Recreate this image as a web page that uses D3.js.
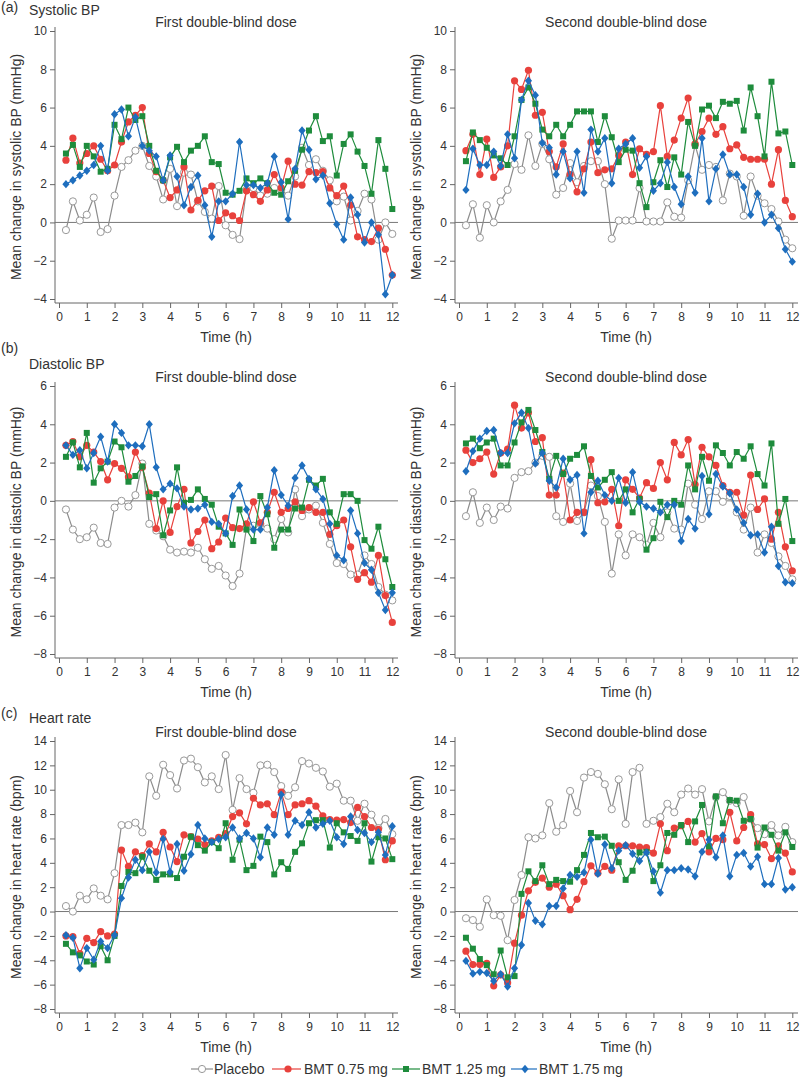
<!DOCTYPE html>
<html>
<head>
<meta charset="utf-8">
<script src="https://cdn.jsdelivr.net/npm/d3@7"></script>
<style>
body { margin: 0; background: #fff; }
text { font-family: "Liberation Sans", Arial, sans-serif; fill: #333; }
</style>
</head>
<body>
<div id="chart"></div>
<script>
// time points (h)
const times = [0.25,0.5,0.75,1,1.25,1.5,1.75,2,2.25,2.5,2.75,3,
  3.25,3.5,3.75,4,4.25,4.5,4.75,5,5.25,5.5,5.75,6,
  6.25,6.5,6.75,7,7.25,7.5,7.75,8,8.25,8.5,8.75,9,
  9.25,9.5,9.75,10,10.25,10.5,10.75,11,11.25,11.5,11.75,12];
const xTicks = [0,1,2,3,4,5,6,7,8,9,10,11,12];
const sysTicks = [-4,-2,0,2,4,6,8,10];
const diaTicks = [-8,-6,-4,-2,0,2,4,6];
const hrTicks = [-8,-6,-4,-2,0,2,4,6,8,10,12,14];

const seriesNames = ["Placebo", "BMT 0.75 mg", "BMT 1.25 mg", "BMT 1.75 mg"];

// (a) systolic, first dose
const sys1Placebo = [-0.4,1.1,0.1,0.4,1.3,-0.5,-0.35,1.4,2.9,3.25,3.75,4.0,
  2.95,2.4,1.2,2.8,0.85,2.6,2.5,1.1,0.55,0.2,1.9,-0.15,
  -0.65,-0.87,1.7,1.8,1.4,1.5,1.8,1.7,1.4,2.4,3.9,3.0,
  3.3,2.7,2.2,1.1,1.35,0.1,0.6,1.5,1.2,-0.9,0.0,-0.6];
const sys1Bmt075 = [3.25,4.4,3.1,3.6,4.0,3.3,2.7,3.0,4.2,5.25,5.6,6.0,
  3.6,2.65,2.2,1.3,1.7,2.9,0.65,1.15,1.65,1.9,0.1,0.5,
  0.35,0.1,1.65,1.45,1.1,1.7,2.5,1.8,3.2,2.0,1.95,2.65,
  2.6,2.65,1.8,1.4,1.9,0.9,-0.75,-0.9,-1.0,-0.3,-1.4,-2.75];
const sys1Bmt125 = [3.6,4.05,2.9,4.0,3.45,2.65,2.8,5.1,4.35,6.0,5.35,5.55,
  4.0,2.7,2.2,3.4,3.95,3.15,3.75,4.0,4.5,3.15,3.05,1.55,
  1.45,1.65,2.3,2.05,2.3,2.05,1.55,1.45,2.15,2.7,3.8,4.8,
  5.55,4.25,4.5,2.45,4.1,4.6,3.7,2.95,1.5,4.3,2.8,0.7];
const sys1Bmt175 = [2.0,2.2,2.45,2.7,3.0,4.0,2.7,5.65,5.9,4.5,5.5,4.0,
  3.75,3.45,2.2,3.5,2.4,0.9,1.85,2.45,0.9,-0.75,1.1,1.1,
  1.5,4.2,1.95,1.95,1.8,2.05,3.45,2.1,0.17,2.8,4.8,3.8,
  2.25,2.45,1.0,-0.1,-0.9,1.3,0.4,-1.05,0.0,-0.65,-3.75,-2.75];

// (a) systolic, second dose
const sys2Placebo = [-0.15,0.95,-0.8,0.9,0.0,1.1,1.7,3.05,2.75,4.55,2.95,4.1,
  3.3,1.45,1.8,3.1,2.1,2.95,3.2,3.2,2.0,-0.85,0.1,0.1,
  0.1,1.8,0.05,0.05,0.05,1.05,0.3,0.25,2.2,4.05,2.75,3.0,
  2.9,1.15,2.55,2.4,0.35,2.4,1.4,1.0,0.7,0.05,-0.9,-1.35];
const sys2Bmt075 = [3.75,4.6,2.5,4.35,2.35,2.9,4.0,7.4,6.95,7.95,5.6,5.75,
  3.7,2.9,4.1,2.5,1.6,2.8,4.2,2.6,2.75,2.8,3.5,4.2,
  2.5,3.85,3.55,3.7,6.1,3.45,4.3,5.45,6.5,4.1,4.75,5.45,
  4.6,5.0,3.85,4.05,3.4,3.3,3.3,3.3,2.0,3.8,1.15,0.3];
const sys2Bmt125 = [3.2,4.7,4.3,3.9,3.5,3.35,3.0,4.5,6.4,7.05,6.2,4.85,
  4.5,5.1,4.5,5.1,5.8,5.8,5.8,4.2,5.55,4.45,3.15,3.8,
  3.75,2.05,0.8,2.1,3.25,1.85,3.4,2.5,5.25,4.0,5.9,6.1,
  5.45,6.3,6.2,6.35,4.8,7.05,5.55,3.45,7.35,4.65,4.75,3.0];
const sys2Bmt175 = [1.7,3.85,3.0,3.0,3.7,2.95,4.6,3.35,6.4,7.4,6.65,4.15,
  3.9,2.5,3.7,2.3,3.7,1.55,4.85,3.7,4.4,2.05,3.85,4.1,
  4.4,2.85,3.45,1.65,2.05,3.15,1.85,0.95,2.4,1.55,4.4,1.1,
  2.8,3.55,2.5,2.5,1.85,0.4,1.5,0.0,0.4,-0.3,-1.4,-2.05];

// (b) diastolic, first dose
const dia1Placebo = [-0.45,-1.5,-2.0,-1.9,-1.4,-2.2,-2.25,-0.35,0.0,-0.3,0.3,1.95,
  -1.2,-1.55,-1.85,-2.55,-2.7,-2.65,-2.7,-2.45,-3.05,-3.55,-3.4,-3.9,
  -4.45,-3.8,-1.4,-1.3,-1.2,-1.45,-2.0,-0.95,-1.65,0.6,-0.8,-0.45,
  -0.25,-1.15,-2.25,-3.25,-3.3,-3.85,-3.85,-2.85,-3.3,-4.5,-4.9,-5.2];
const dia1Bmt075 = [2.9,3.1,2.3,2.9,2.55,2.05,1.1,1.95,1.7,1.25,2.55,1.75,
  0.4,-1.45,0.0,-1.65,-0.3,0.6,-2.2,-1.6,-1.0,-2.5,-2.15,-0.9,
  -1.4,-1.45,-1.2,-0.05,-1.15,-0.6,0.45,-0.6,-0.4,-0.05,-0.5,-0.35,
  -0.6,-0.6,-1.75,-1.3,-1.0,-2.4,-4.1,-3.75,-4.25,-2.85,-4.95,-6.35];
const dia1Bmt125 = [2.3,3.05,1.75,3.55,0.95,1.7,2.05,3.1,2.8,1.0,1.3,1.8,
  0.2,0.35,-1.8,-0.5,1.75,-0.1,0.05,0.6,0.1,-0.2,-1.35,-1.7,
  -2.3,-0.45,-1.5,-2.1,0.25,-0.7,-2.45,-1.5,-1.5,-0.4,-0.35,1.1,
  0.8,1.15,-0.6,-1.2,0.35,0.35,0.0,-2.05,-2.5,-1.35,-3.05,-4.5];
const dia1Bmt175 = [2.9,2.4,2.65,1.7,2.5,3.35,2.05,4.0,3.55,2.9,2.9,2.85,
  4.0,1.75,0.6,0.9,0.65,-0.3,-0.45,-0.4,-0.2,-1.1,-1.2,-1.7,
  0.25,0.8,-0.45,-1.5,-1.5,-0.35,1.6,0.3,-0.25,1.2,1.85,1.15,
  0.6,0.1,-1.2,-2.85,-3.1,-0.5,-1.7,-3.25,-3.6,-4.8,-5.7,-4.8];

// (b) diastolic, second dose
const dia2Placebo = [-0.8,0.45,-1.15,-0.35,-1.0,-0.3,-0.4,1.2,1.5,1.55,2.0,2.35,
  2.3,-0.8,-1.1,0.9,-1.05,-0.6,0.8,0.25,-1.1,-3.8,-1.75,-2.85,
  -1.75,-1.9,-2.3,-1.15,-1.9,-0.6,-1.45,-1.5,0.9,-0.2,-0.95,0.5,
  0.5,-0.05,0.25,-0.6,-1.5,-0.35,-2.7,-1.75,-2.2,-2.9,-3.4,-4.1];
const dia2Bmt075 = [2.65,2.0,2.2,2.55,1.4,2.5,2.7,5.0,3.8,4.6,3.1,3.3,
  0.3,0.3,1.45,-1.0,-0.6,-0.6,2.15,-0.1,-0.05,0.6,-1.3,1.1,
  0.6,0.15,0.95,0.65,2.0,1.1,3.05,2.4,3.2,0.85,2.8,2.3,
  1.85,0.8,0.45,0.45,-0.75,1.35,-0.45,0.1,-2.0,-0.6,-2.4,-3.65];
const dia2Bmt125 = [3.0,3.25,2.75,3.05,3.25,1.85,1.85,3.05,4.1,4.75,3.7,2.55,
  1.15,2.35,1.4,2.2,2.4,2.85,1.3,0.7,1.1,1.5,0.0,0.6,
  -0.6,0.1,-2.55,-1.95,-0.05,-0.85,0.0,-0.2,1.85,0.6,2.3,1.05,
  2.9,2.5,1.85,2.55,2.2,2.85,1.4,0.8,3.0,-1.2,0.1,-2.1];
const dia2Bmt175 = [1.55,2.6,3.25,3.65,3.7,2.5,2.5,4.05,4.6,3.8,1.95,2.5,
  1.05,0.7,2.2,1.1,1.35,-1.7,0.45,1.05,0.3,0.0,1.2,-0.1,
  1.5,-0.05,-0.3,-0.4,-0.6,-0.2,-0.2,-2.1,-0.95,-1.45,1.3,-0.7,
  1.4,0.75,0.4,-0.45,-1.15,-1.8,-1.75,-2.7,-1.35,-3.4,-4.25,-4.3];

// (c) heart rate, first dose
const hr1Placebo = [0.45,0.0,1.3,1.0,1.9,1.3,1.0,3.15,7.1,7.1,7.3,6.5,
  11.1,9.5,12.05,11.2,10.1,12.4,12.55,11.85,10.6,11.1,10.05,12.85,
  8.35,10.95,10.05,9.75,12.0,12.05,11.45,10.3,9.5,10.2,12.35,12.15,
  11.8,11.5,10.25,10.5,9.1,9.1,7.45,8.85,7.95,6.85,7.6,6.35];
const hr1Bmt075 = [-2.0,-2.05,-3.45,-2.2,-2.55,-1.65,-2.0,-1.85,5.05,3.7,4.9,4.6,
  5.55,4.9,6.5,5.3,4.1,6.3,6.15,5.95,5.5,5.8,6.1,6.4,
  7.8,8.1,7.2,9.3,8.75,8.85,7.95,9.8,7.95,8.75,8.85,9.1,
  8.65,7.85,7.55,7.5,7.55,7.3,8.55,7.8,6.9,6.75,4.25,5.8];
const hr1Bmt125 = [-2.65,-3.35,-3.6,-4.1,-4.35,-2.85,-4.0,-2.0,2.1,3.25,3.15,4.5,
  3.35,2.6,3.05,3.05,2.75,4.5,6.15,5.45,5.0,5.7,5.2,7.25,
  4.25,5.9,3.4,3.75,6.15,5.7,3.05,4.05,3.5,4.9,5.6,7.25,
  7.5,7.5,5.25,7.25,6.5,6.2,5.8,7.25,4.1,6.1,6.0,4.3];
const hr1Bmt175 = [-1.95,-2.15,-4.65,-3.0,-3.95,-2.45,-3.0,-1.95,1.1,2.8,4.25,3.4,
  4.9,3.2,5.95,3.25,5.55,3.35,4.7,7.1,6.0,5.7,5.95,6.1,
  6.9,6.0,6.45,6.0,4.45,6.9,6.3,9.6,6.3,7.45,7.1,8.15,
  6.9,7.2,7.45,6.1,5.55,7.8,6.7,6.45,5.7,6.5,4.65,7.0];

// (c) heart rate, second dose
const hr2Placebo = [-0.55,-0.7,-1.25,1.0,-0.3,-0.35,-2.35,0.95,3.0,6.1,6.0,6.25,
  8.9,6.55,7.1,9.9,8.15,11.0,11.45,11.3,10.45,8.4,10.85,7.2,
  11.45,11.8,7.2,7.45,7.75,8.85,8.15,9.6,10.1,9.6,10.05,7.4,
  9.4,9.8,9.1,8.9,9.4,7.6,6.85,6.35,7.1,6.25,6.95,5.7];
const hr2Bmt075 = [-3.25,-4.35,-4.35,-4.25,-6.1,-5.2,-5.85,-2.6,-0.3,1.7,2.4,2.75,
  2.0,2.25,1.3,0.15,1.0,2.45,3.75,3.15,3.7,3.4,5.4,5.4,
  5.4,5.3,5.25,4.8,7.2,5.0,6.85,7.05,7.4,5.7,6.4,4.9,
  6.0,5.9,8.15,5.8,6.9,7.95,5.55,5.5,4.35,5.4,4.8,3.25];
const hr2Bmt125 = [-2.15,-3.05,-3.9,-4.4,-5.15,-3.2,-5.4,-5.3,1.45,3.3,2.5,3.8,
  2.25,2.6,2.5,2.45,3.4,4.65,6.45,6.1,6.15,5.4,4.05,2.6,
  3.35,4.85,4.9,2.5,3.8,6.45,6.3,7.1,5.7,7.4,8.75,5.35,
  9.45,7.25,9.15,9.1,7.45,7.6,5.25,6.9,6.3,5.0,6.5,5.3];
const hr2Bmt175 = [-4.05,-5.1,-4.95,-5.05,-5.7,-5.15,-6.15,-4.65,-2.75,0.7,-0.75,-1.05,
  0.45,0.45,1.9,3.0,2.85,3.2,5.9,3.1,5.5,3.55,5.0,5.45,
  4.75,4.15,4.85,3.3,1.55,3.4,3.4,3.55,3.45,2.9,4.9,5.9,
  4.45,6.25,2.9,4.65,4.8,3.7,4.5,2.25,2.25,4.4,1.8,2.0];

const colors = ["#8c8c8c", "#e8413c", "#1e8c3c", "#1e6ebe"];
const markerFill = ["#fff", "#e8413c", "#1e8c3c", "#1e6ebe"];
const markerStroke = ["#999", "none", "none", "none"];

const rows = [
  {tag: "(a)", title: "Systolic BP", ylabel: "Mean change in systolic BP (mmHg)",
   domain: [-4, 10], ticks: sysTicks, oy: 0, tagY: 12, titleY: 15,
   first: [sys1Placebo, sys1Bmt075, sys1Bmt125, sys1Bmt175],
   second: [sys2Placebo, sys2Bmt075, sys2Bmt125, sys2Bmt175]},
  {tag: "(b)", title: "Diastolic BP", ylabel: "Mean change in diastolic BP (mmHg)",
   domain: [-8, 6], ticks: diaTicks, oy: 355, tagY: -2, titleY: 14,
   first: [dia1Placebo, dia1Bmt075, dia1Bmt125, dia1Bmt175],
   second: [dia2Placebo, dia2Bmt075, dia2Bmt125, dia2Bmt175]},
  {tag: "(c)", title: "Heart rate", ylabel: "Mean change in heart rate (bpm)",
   domain: [-8, 14], ticks: hrTicks, oy: 710, tagY: 8, titleY: 13,
   first: [hr1Placebo, hr1Bmt075, hr1Bmt125, hr1Bmt175],
   second: [hr2Placebo, hr2Bmt075, hr2Bmt125, hr2Bmt175]}
];

const svg = d3.select("#chart").append("svg")
  .attr("width", 800)
  .attr("height", 1079);

function marker(sel, i) {
  if (i === 0 || i === 1) {
    sel.append("circle").attr("r", 3.6)
      .attr("fill", markerFill[i])
      .attr("stroke", markerStroke[i])
      .attr("stroke-width", 1);
  } else if (i === 2) {
    sel.append("rect").attr("x", -3).attr("y", -3)
      .attr("width", 6).attr("height", 6)
      .attr("fill", markerFill[i]);
  } else {
    sel.append("path").attr("d", "M0,-4.2L3.6,0L0,4.2L-3.6,0Z")
      .attr("fill", markerFill[i]);
  }
}

function drawPanel(g, row, data, subtitle) {
  const x = d3.scaleLinear().domain([0, 12]).range([59, 392.3]);
  const y = d3.scaleLinear().domain(row.domain).range([299, 31]);

  g.append("text")
    .attr("x", 226).attr("y", 27)
    .attr("text-anchor", "middle")
    .style("font-size", "14px")
    .text(subtitle);

  // y axis
  const ya = g.append("g")
    .attr("transform", "translate(55,0)")
    .call(d3.axisLeft(y).tickValues(row.ticks).tickSize(5).tickPadding(3));
  ya.select(".domain").remove();

  // x axis
  const xa = g.append("g")
    .attr("transform", "translate(0,303)")
    .call(d3.axisBottom(x).tickValues(xTicks).tickSize(5).tickPadding(4));
  xa.select(".domain").remove();

  g.selectAll(".tick line").attr("stroke", "#666");
  g.selectAll(".tick text").style("font-size", "12px").attr("fill", "#444")
    .style("font-family", "'Liberation Sans', Arial, sans-serif");

  g.append("line").attr("x1", 55).attr("x2", 55).attr("y1", 27).attr("y2", 303)
    .attr("stroke", "#666");
  g.append("line").attr("x1", 55).attr("x2", 398).attr("y1", 303).attr("y2", 303)
    .attr("stroke", "#666");
  // zero line
  g.append("line").attr("x1", 55).attr("x2", 398).attr("y1", y(0)).attr("y2", y(0))
    .attr("stroke", "#777");

  g.append("text")
    .attr("transform", `translate(21,${(31 + 303) / 2})rotate(-90)`)
    .attr("text-anchor", "middle")
    .style("font-size", "14px")
    .text(row.ylabel);

  g.append("text")
    .attr("x", 226).attr("y", 342)
    .attr("text-anchor", "middle")
    .style("font-size", "14px")
    .text("Time (h)");

  const line = d3.line()
    .x((d, i) => x(times[i]))
    .y(d => y(d));

  data.forEach((vals, s) => {
    g.append("path")
      .datum(vals)
      .attr("d", line)
      .attr("fill", "none")
      .attr("stroke", colors[s])
      .attr("stroke-width", 1.2);
    g.append("g").selectAll("g")
      .data(vals)
      .join("g")
      .attr("transform", (d, i) => `translate(${x(times[i])},${y(d)})`)
      .each(function() { marker(d3.select(this), s); });
  });
}

rows.forEach(row => {
  const gr = svg.append("g").attr("transform", `translate(0,${row.oy})`);
  gr.append("text").attr("x", 1).attr("y", row.tagY)
    .style("font-size", "14px").text(row.tag);
  gr.append("text").attr("x", 29).attr("y", row.titleY)
    .style("font-size", "14px").text(row.title);
  drawPanel(gr.append("g"), row, row.first, "First double-blind dose");
  drawPanel(gr.append("g").attr("transform", "translate(400,0)"), row, row.second, "Second double-blind dose");
});

// legend
const legendPos = [
  {x1: 191, x2: 213, m: 202, tx: 214},
  {x1: 272, x2: 301, m: 288, tx: 304},
  {x1: 392, x2: 420, m: 406, tx: 422},
  {x1: 511, x2: 537, m: 525, tx: 539}
];
const lg = svg.append("g");
seriesNames.forEach((name, i) => {
  const p = legendPos[i];
  lg.append("line").attr("x1", p.x1).attr("x2", p.x2)
    .attr("y1", 1069).attr("y2", 1069)
    .attr("stroke", colors[i]).attr("stroke-width", 1.2);
  const m = lg.append("g").attr("transform", `translate(${p.m},1069)`);
  marker(m, i);
  lg.append("text").attr("x", p.tx).attr("y", 1074)
    .style("font-size", "14px").text(name);
});
</script>
</body>
</html>
